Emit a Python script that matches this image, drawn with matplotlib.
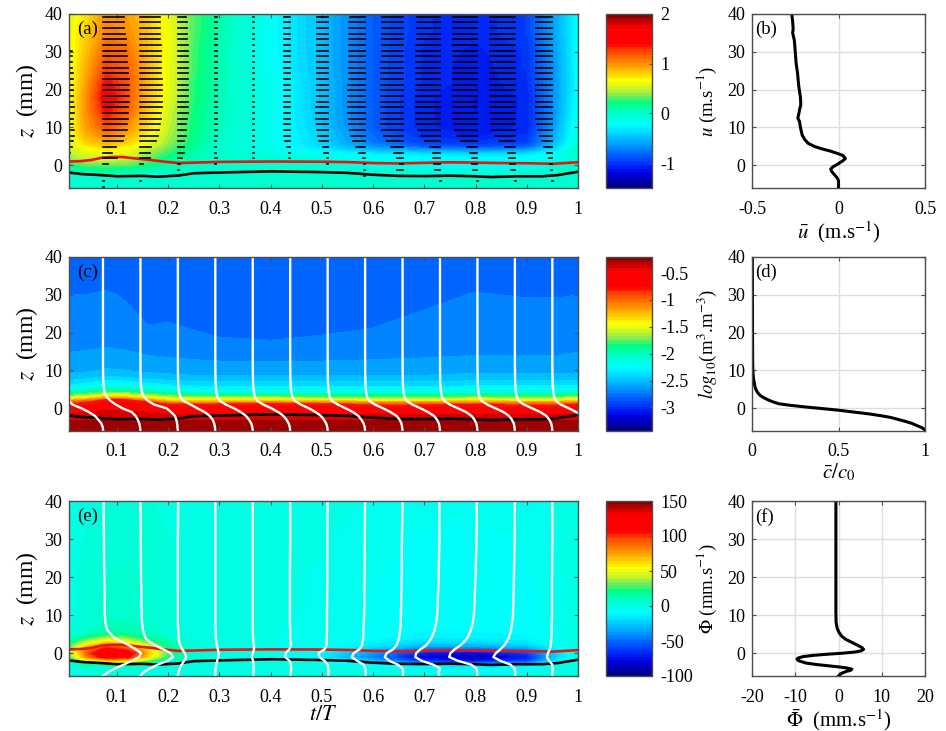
#! /usr/bin/env python
import numpy as np
import matplotlib
matplotlib.use('Agg')
from matplotlib import pyplot as plt
from matplotlib.cm import ScalarMappable
from matplotlib.colors import LinearSegmentedColormap, Normalize
from matplotlib.ticker import FormatStrFormatter

plt.rcParams['font.family'] = ['Liberation Serif', 'DejaVu Serif']
plt.rcParams['mathtext.fontset'] = 'stix'
plt.rcParams['axes.unicode_minus'] = False

# grid of the colour fields
t_grid = [.0064, .04, .08, .12, .16, .2, .25, .3, .4, .5, .6, .7, .8, .9, .96, 1.0]
z_grid = [-6, -3.5, -2, -1, 0, 1, 2, 3, 4, 5, 6, 8, 10, 14, 18, 22, 26, 30, 35, 40]

# (a) u, m/s
u_field = [
    [0]*16,
    [0]*16,
    [0, .05, .08, .06, .03, .02, 0, 0, 0, 0, -.03, -.06, -.08, -.06, -.02, 0],
    [.1, .15, .2, .15, .1, .05, 0, 0, 0, -.02, -.08, -.12, -.15, -.12, -.03, 0],
    [.2, .3, .3, .3, .2, .1, .02, 0, 0, -.03, -.1, -.15, -.18, -.15, -.05, 0],
    [.3, .4, .45, .4, .3, .15, .05, 0, 0, -.05, -.15, -.2, -.2, -.2, -.1, 0],
    [.4, .5, .55, .5, .35, .2, .08, 0, -.05, -.1, -.2, -.22, -.25, -.22, -.15, 0],
    [.45, .55, .6, .55, .4, .25, .1, 0, -.1, -.2, -.3, -.35, -.4, -.35, -.2, .05],
    [.5, .6, .7, .62, .45, .3, .12, 0, -.12, -.3, -.5, -.6, -.65, -.6, -.3, .1],
    [.5, .7, .8, .7, .55, .35, .15, 0, -.15, -.38, -.65, -.85, -.9, -.85, -.4, 0],
    [.55, .8, .9, .8, .62, .4, .18, 0, -.15, -.4, -.75, -.95, -1.0, -.95, -.45, -.05],
    [.6, .9, 1.05, .9, .7, .45, .2, .02, -.15, -.42, -.8, -1.02, -1.08, -1.0, -.5, -.1],
    [.6, .95, 1.2, 1.0, .75, .48, .2, .05, -.15, -.45, -.85, -1.05, -1.1, -1.05, -.55, -.1],
    [.62, 1.0, 1.4, 1.15, .82, .52, .22, .05, -.15, -.48, -.85, -1.05, -1.12, -1.05, -.6, -.15],
    [.62, 1.0, 1.5, 1.2, .85, .58, .25, .06, -.15, -.48, -.85, -1.05, -1.12, -1.05, -.6, -.2],
    [.6, .95, 1.4, 1.2, .88, .6, .25, .07, -.15, -.48, -.85, -1.02, -1.1, -1.02, -.6, -.2],
    [.6, .9, 1.25, 1.15, .88, .6, .28, .08, -.18, -.5, -.85, -1.02, -1.1, -1.0, -.6, -.2],
    [.6, .85, 1.15, 1.1, .85, .62, .28, .08, -.2, -.5, -.85, -1.02, -1.08, -1.0, -.58, -.2],
    [.6, .8, 1.05, 1.0, .85, .62, .3, .1, -.2, -.5, -.85, -1.0, -1.05, -.95, -.55, -.2],
    [.55, .75, 1.0, .95, .8, .6, .3, .1, -.2, -.5, -.85, -1.0, -1.05, -.95, -.55, -.2],
]

# (c) log10 concentration
c_field = [
    [-.3]*16,
    [-.32]*16,
    [-.42]*16,
    [-.5, -.45, -.4, -.42, -.45, -.48, -.5, -.5, -.5, -.5, -.52, -.52, -.52, -.52, -.52, -.5],
    [-.6, -.55, -.5, -.52, -.55, -.6, -.65, -.65, -.65, -.65, -.68, -.68, -.68, -.68, -.68, -.65],
    [-.75, -.65, -.6, -.62, -.7, -.85, -.85, -.85, -.82, -.85, -.9, -.9, -.85, -.9, -.9, -.85],
    [-1.2, -1.05, -.85, -.9, -1.1, -1.3, -1.35, -1.35, -1.3, -1.35, -1.4, -1.4, -1.35, -1.4, -1.4, -1.3],
    [-1.6, -1.5, -1.3, -1.35, -1.5, -1.65, -1.72, -1.75, -1.75, -1.78, -1.8, -1.8, -1.75, -1.78, -1.78, -1.7],
    [-1.95, -1.85, -1.7, -1.72, -1.85, -1.95, -2.03, -2.05, -2.05, -2.05, -2.08, -2.08, -2.05, -2.05, -2.05, -2.0],
    [-2.2, -2.1, -2.0, -2.02, -2.1, -2.18, -2.23, -2.25, -2.25, -2.25, -2.25, -2.25, -2.22, -2.22, -2.22, -2.2],
    [-2.35, -2.28, -2.2, -2.22, -2.28, -2.33, -2.37, -2.38, -2.38, -2.38, -2.38, -2.38, -2.36, -2.36, -2.36, -2.35],
    [-2.5, -2.47, -2.42, -2.44, -2.48, -2.5, -2.52, -2.52, -2.52, -2.52, -2.52, -2.52, -2.5, -2.5, -2.5, -2.5],
    [-2.58, -2.57, -2.54, -2.55, -2.58, -2.59, -2.6, -2.6, -2.6, -2.6, -2.6, -2.6, -2.58, -2.58, -2.58, -2.58],
    [-2.64, -2.63, -2.62, -2.63, -2.65, -2.66, -2.67, -2.68, -2.68, -2.68, -2.67, -2.66, -2.65, -2.65, -2.65, -2.64],
    [-2.69, -2.69, -2.68, -2.69, -2.71, -2.71, -2.73, -2.745, -2.75, -2.74, -2.73, -2.7, -2.68, -2.69, -2.69, -2.69],
    [-2.71, -2.71, -2.7, -2.72, -2.75, -2.745, -2.76, -2.77, -2.78, -2.77, -2.755, -2.72, -2.7, -2.71, -2.71, -2.71],
    [-2.73, -2.73, -2.72, -2.74, -2.77, -2.77, -2.78, -2.79, -2.8, -2.79, -2.77, -2.75, -2.725, -2.73, -2.73, -2.73],
    [-2.75, -2.75, -2.74, -2.76, -2.79, -2.79, -2.8, -2.8, -2.82, -2.81, -2.79, -2.77, -2.745, -2.755, -2.755, -2.75],
    [-2.78, -2.78, -2.78, -2.79, -2.81, -2.81, -2.82, -2.82, -2.83, -2.83, -2.82, -2.8, -2.78, -2.79, -2.79, -2.78],
    [-2.8, -2.8, -2.8, -2.81, -2.83, -2.83, -2.84, -2.84, -2.84, -2.84, -2.84, -2.82, -2.81, -2.81, -2.81, -2.8],
]

# (e) flux, mm/s
f_field = [
    [0]*16,
    [0, 3, 5, 5, 3, 1, 0, 0, 0, -1, -6, -14, -16, -12, -3, 0],
    [10, 42, 60, 58, 30, 10, 2, 0, -1, -10, -30, -66, -76, -60, -14, -2],
    [25, 80, 120, 110, 62, 22, 4, 0, -2, -14, -44, -82, -92, -72, -20, -2],
    [32, 90, 135, 120, 70, 26, 5, 0, -2, -12, -38, -70, -78, -60, -18, 0],
    [30, 78, 112, 98, 60, 22, 4, 0, -2, -8, -26, -50, -54, -40, -12, 0],
    [24, 60, 85, 72, 45, 18, 3, 0, -2, -6, -16, -30, -30, -24, -8, 0],
    [14, 40, 60, 50, 30, 12, 2, -1, -2, -5, -12, -20, -20, -16, -6, 0],
    [6, 22, 38, 32, 18, 8, 1, -1, -2, -4, -9, -14, -14, -12, -5, 0],
    [3, 12, 20, 18, 12, 5, 0, -1, -2, -4, -8, -11, -11, -10, -5, 0],
    [2, 8, 14, 13, 9, 4, 0, -1, -2, -4, -8, -10, -10, -9, -4, 0],
    [1, 5, 10, 10, 7, 3, 0, -1, -2, -3, -7, -9, -9, -8, -4, 0],
    [0, 3, 8, 8, 6, 3, 0, -1, -2, -3, -7, -9, -9, -8, -4, 0],
    [0, 3, 7, 7, 5, 3, 0, -1, -1, -3, -7, -9, -9, -8, -4, 0],
    [0, 3, 6, 6, 5, 2, 0, 0, -1, -3, -6, -8, -8, -7, -4, 0],
    [0, 3, 5, 6, 4, 2, 0, 0, -1, -3, -6, -8, -8, -7, -3, 0],
    [0, 2, 5, 5, 4, 2, 0, 0, 0, -2, -5, -7, -7, -6, -3, 0],
    [0, 2, 4, 5, 4, 2, 0, 0, 0, -2, -5, -7, -7, -6, -3, 0],
    [0, 1, 3, 4, 3, 1, 0, 0, 0, -1, -4, -6, -6, -5, -2, 0],
    [0, 0, 2, 3, 2, 0, 0, 0, 0, 0, -3, -5, -5, -4, -2, 0],
]

# bed levels
red_t = [.0064, .03, .05, .07, .09, .11, .13, .16, .19, .22, .25, .3, .4, .5, .55, .6, .65, .7, .75, .8, .85, .9, .95, 1]
red_z = [1.0, 1.1, 1.4, 2.0, 2.2, 2.2, 1.9, 1.5, 1.0, .6, .7, .9, 1.0, .95, .85, .6, .5, .65, .8, .7, .6, .55, .4, .8]
black_t = [.0064, .03, .07, .1, .15, .18, .22, .25, .3, .4, .5, .55, .6, .65, .7, .75, .8, .83, .88, .93, .96, 1]
black_z = [-1.9, -2.3, -2.6, -2.9, -2.8, -3.0, -2.7, -2.1, -1.9, -1.6, -1.8, -2.0, -2.5, -2.8, -2.85, -2.75, -2.9, -3.1, -2.9, -2.9, -2.6, -1.7]

# phases of the profiles drawn over the fields
phases = [0, .0727, .1458, .2189, .292, .3651, .4382, .5113, .5844, .6575, .7306, .8037, .8768, .9499]

# (a) velocity dashes, one row per height, one column per phase
arrow_z = [39.3, 37.8, 36.3, 34.8, 33.3, 31.8, 30.3, 28.8, 27.3, 25.8, 24.3, 22.8, 21.3, 19.8, 18.3, 16.8,
           15.3, 13.8, 12.3, 10.8, 9.3, 7.8, 6.3, 4.8, 3.3, 1.8, .3, -1.2, -2.7, -4.2, -5.7]
arrow_u = [
    [.1, 1.02, .97, .42, .08, .06, -.28, -.5, -.75, -1.0, -1.13, -1.18, -1.22, -.8],
    [.1, 1.05, .97, .44, .08, .06, -.28, -.5, -.78, -1.0, -1.13, -1.18, -1.22, -.8],
    [.1, 1.05, .98, .44, .08, .06, -.3, -.5, -.78, -1.0, -1.13, -1.18, -1.22, -.8],
    [.1, 1.08, .98, .46, .08, .06, -.3, -.5, -.78, -1.0, -1.13, -1.18, -1.22, -.8],
    [.12, 1.1, .98, .46, .08, .06, -.3, -.5, -.78, -1.02, -1.13, -1.18, -1.22, -.8],
    [.15, 1.1, 1.0, .48, .08, .06, -.3, -.5, -.8, -1.02, -1.15, -1.2, -1.22, -.8],
    [.3, 1.12, 1.0, .48, .08, .06, -.32, -.52, -.8, -1.02, -1.15, -1.2, -1.22, -.82],
    [.3, 1.15, 1.0, .48, .08, .06, -.32, -.52, -.8, -1.02, -1.15, -1.2, -1.22, -.82],
    [.3, 1.18, 1.02, .5, .08, .06, -.32, -.52, -.8, -1.05, -1.15, -1.2, -1.22, -.82],
    [.32, 1.2, 1.02, .5, .08, .06, -.32, -.52, -.8, -1.05, -1.15, -1.2, -1.22, -.82],
    [.35, 1.22, 1.02, .5, .08, .06, -.32, -.52, -.8, -1.05, -1.15, -1.2, -1.22, -.82],
    [.35, 1.25, 1.05, .5, .08, .06, -.32, -.52, -.8, -1.05, -1.15, -1.2, -1.22, -.82],
    [.35, 1.25, 1.05, .5, .08, .06, -.32, -.52, -.82, -1.05, -1.15, -1.2, -1.22, -.82],
    [.35, 1.25, 1.05, .5, .08, .06, -.32, -.52, -.82, -1.05, -1.15, -1.2, -1.22, -.82],
    [.35, 1.25, 1.05, .5, .08, .06, -.3, -.52, -.82, -1.05, -1.15, -1.2, -1.22, -.82],
    [.35, 1.25, 1.05, .5, .08, .06, -.3, -.52, -.82, -1.05, -1.15, -1.2, -1.22, -.8],
    [.38, 1.22, 1.05, .48, .08, .06, -.3, -.55, -.82, -1.05, -1.15, -1.2, -1.2, -.78],
    [.38, 1.22, 1.02, .48, .08, .06, -.3, -.55, -.82, -1.05, -1.15, -1.2, -1.2, -.78],
    [.35, 1.2, 1.0, .45, .08, .06, -.3, -.55, -.8, -1.05, -1.15, -1.18, -1.18, -.78],
    [.35, 1.18, .98, .42, .08, .06, -.3, -.5, -.78, -1.05, -1.12, -1.15, -1.15, -.75],
    [.38, 1.15, .92, .4, .08, .06, -.3, -.5, -.75, -1.0, -1.05, -1.1, -1.1, -.72],
    [.42, 1.05, .85, .38, .08, .06, -.28, -.45, -.68, -.9, -.95, -.98, -.95, -.6],
    [.35, .98, .75, .32, .05, .06, -.25, -.4, -.6, -.75, -.75, -.78, -.72, -.48],
    [.3, .62, .5, .32, .05, .06, -.15, -.25, -.45, -.55, -.5, -.5, -.5, -.4],
    [.22, .45, .45, .28, .03, .05, -.05, -.2, -.28, -.4, -.35, -.38, -.35, -.28],
    [.18, .7, .45, .18, .08, .05, -.05, -.05, -.08, -.25, -.32, -.28, -.28, -.15],
    [.1, .25, .12, .12, .03, .03, -.03, -.05, -.05, -.1, -.28, -.25, -.25, -.1],
    [0, 0, 0, .05, 0, 0, 0, .03, -.05, -.25, -.25, -.2, -.2, -.08],
    [0, 0, .02, .05, 0, 0, 0, .02, -.05, -.1, -.1, -.08, -.08, -.03],
    [0, .05, .02, 0, 0, 0, 0, .02, 0, .03, .03, .03, .03, .02],
    [0, .03, 0, 0, 0, 0, 0, 0, .01, 0, 0, 0, 0, 0],
]

# (c) white concentration profiles, c/c0
conc_z = [-6, -5, -4, -3, -2, -1, 0, 1, 2, 3, 4, 5, 6, 8, 10, 15, 20, 40]
conc_lines = [
    [1, .99, .95, .87, .78, .62, .42, .18, .08, .045, .03, .02, .012, .006, .002, 0, 0, 0],
    [1, .99, .97, .93, .87, .77, .52, .34, .2, .1, .05, .03, .015, .006, .002, 0, 0, 0],
    [1, .99, .98, .96, .92, .82, .7, .36, .2, .1, .05, .03, .015, .006, .002, 0, 0, 0],
    [1, .99, .97, .93, .85, .72, .52, .34, .14, .07, .04, .02, .01, .005, .002, 0, 0, 0],
    [1, .99, .96, .9, .82, .68, .5, .28, .12, .06, .035, .02, .012, .005, .002, 0, 0, 0],
    [1, .99, .96, .9, .82, .68, .5, .28, .12, .06, .035, .02, .012, .005, .002, 0, 0, 0],
    [1, .99, .96, .9, .82, .68, .5, .28, .12, .06, .035, .02, .012, .005, .002, 0, 0, 0],
    [1, .99, .96, .9, .82, .68, .48, .27, .11, .06, .035, .02, .012, .005, .002, 0, 0, 0],
    [1, .99, .97, .92, .84, .68, .48, .26, .11, .055, .03, .02, .01, .005, .002, 0, 0, 0],
    [1, .99, .97, .92, .84, .68, .48, .26, .11, .055, .03, .02, .01, .005, .002, 0, 0, 0],
    [1, .99, .97, .92, .84, .7, .48, .26, .11, .055, .03, .02, .01, .005, .002, 0, 0, 0],
    [1, .99, .97, .92, .84, .7, .48, .26, .11, .055, .03, .02, .01, .005, .002, 0, 0, 0],
    [1, .99, .97, .92, .84, .68, .46, .24, .1, .05, .03, .02, .01, .005, .002, 0, 0, 0],
    [1, .99, .96, .9, .8, .64, .44, .22, .09, .05, .03, .02, .01, .005, .002, 0, 0, 0],
]

# (e) white flux profiles, mm/s
flux_z = [-6, -5, -4, -3, -2, -1, 0, 1, 2, 3, 4, 6, 8, 10, 20, 30, 40]
flux_lines = [
    [0, 16, 38, 66, 90, 114, 120, 104, 84, 60, 36, 14, 8, 6, 4, 3, 2],
    [0, 10, 30, 55, 85, 103, 95, 72, 48, 28, 16, 8, 5, 4, 2, 1, 0],
    [0, 2, 6, 12, 20, 26, 22, 14, 8, 4, 3, 1, 0, 0, 0, 0, 1],
    [0, 0, 1, 3, 6, 9, 11, 8, 5, 3, 2, 1, 0, 0, 0, 0, 0],
    [2, 2, 3, 3, 1, -3, 0, 4, 4, 2, 1, 0, 0, 0, 0, 0, 0],
    [1, 2, 3, 2, -2, -16, -14, -3, 2, 1, 0, 0, -1, -1, -1, 0, 0],
    [2, 3, 2, 0, -10, -26, -28, -10, -4, -3, -3, -2, -2, -2, -1, -1, 0],
    [1, 2, 1, -5, -25, -42, -36, -18, -10, -8, -6, -5, -4, -3, -2, -1, 0],
    [1, 2, 0, -15, -42, -56, -50, -30, -20, -15, -11, -8, -6, -5, -3, -2, 0],
    [-2, -4, 0, -22, -58, -78, -75, -62, -45, -35, -27, -17, -12, -9, -4, -2, -2],
    [-1, -1, -3, -20, -62, -89, -85, -72, -55, -42, -32, -21, -15, -11, -6, -3, -2],
    [1, 1, -1, -14, -46, -68, -60, -46, -34, -26, -20, -12, -9, -6, -3, -1, 0],
    [0, 0, 1, 0, -10, -17, -14, -8, -5, -4, -3, -2, -2, -1, -1, 0, 0],
]

# mean profiles on the right
ubar = [-.27, -.265, -.262, -.265, -.255, -.25, -.245, -.237, -.23, -.22, -.218, -.225, -.23, -.235, -.225, -.22,
        -.21, -.195, -.175, -.14, -.1, -.05, -.01, .025, .04, .025, -.005, -.035, -.045, -.04, -.025, -.01, 0, 0]
ubar_z = [40, 38, 36, 35, 33, 30, 27, 24.5, 21, 18, 16, 14.7, 13.5, 12.5, 11.5, 10,
          8, 6.8, 5.8, 5, 4.4, 3.8, 3.2, 2.6, 1.8, 1.2, .3, -.5, -1, -1.6, -2.4, -3.2, -4, -6]
cbar_mean = [.002, .003, .004, .005, .008, .012, .016, .022, .032, .045, .06, .085, .115, .155, .22, .31, .39, .5,
             .59, .68, .75, .8, .85, .89, .925, .96, .985, .997, 1]
cbar_z = [40, 20, 12, 10, 8, 7, 6, 5, 4.2, 3.5, 3, 2.4, 1.8, 1.2, .8, .35, 0, -.5,
          -1, -1.5, -2, -2.4, -3, -3.5, -4, -4.7, -5.2, -5.6, -6]
phibar = [-.6, -.6, -.55, -.3, .1, .7, 1.6, 2.8, 4.2, 5.4, 5.8, 5.2, 3.8, 1, -3.5, -6, -8.2, -9.4, -9.6, -9.2,
          -7.5, -5, -2.5, 0, 2, 3.1, 2.8, 1.8, .7, 0]
phibar_z = [40, 10.5, 8, 6.5, 5.5, 4.5, 3.7, 3, 2.2, 1.5, 1, .6, .3, 0, -.35, -.6, -.9, -1.3, -1.6, -2,
            -2.6, -3, -3.3, -3.6, -3.9, -4.2, -4.5, -4.8, -5.3, -6]

cmap_stops = [(0, (0, 0, 130)), (.08, (0, 0, 230)), (.16, (0, 70, 255)), (.26, (0, 170, 255)),
              (.36, (0, 255, 255)), (.43, (0, 255, 205)), (.49, (0, 255, 130)), (.53, (120, 235, 90)),
              (.57, (200, 245, 40)), (.62, (255, 255, 0)), (.72, (255, 140, 0)), (.80, (255, 60, 0)),
              (.83, (255, 0, 0)), (.93, (255, 0, 0)), (1, (130, 0, 0))]

XMIN = .0064
YMIN, YMAX = -6, 40
FIG_W, FIG_H = 946., 731.
EDGE = '0.3'


def add_axes(fig, x0, x1, y0, y1):
    # pixel box, y from the top of the picture
    return fig.add_axes([x0/FIG_W, 1 - y1/FIG_H, (x1 - x0)/FIG_W, (y1 - y0)/FIG_H])


def dress(ax, letter):
    ax.set_ylim(YMIN, YMAX)
    ax.set_yticks([0, 10, 20, 30, 40])
    ax.tick_params(direction='in', length=3, width=.8, color=EDGE, labelsize=13,
                   top=True, right=True)
    ax.tick_params(axis='x', pad=9)
    ax.tick_params(axis='y', pad=5)
    for s in ax.spines.values():
        s.set_color(EDGE)
        s.set_linewidth(1.0)
    ax.text(.016, .91, letter, transform=ax.transAxes, fontsize=13.5, va='center', ha='left')


def field_panel(fig, y0, y1, field, cmap, vmin, vmax, levels, letter, cb_ticks):
    ax = add_axes(fig, 69, 578, y0, y1)
    norm = Normalize(vmin, vmax)
    ax.contourf(t_grid, z_grid, np.array(field), levels=levels, cmap=cmap, norm=norm, extend='both')
    ax.plot(red_t, red_z, color='#f01010', lw=1.9)
    ax.plot(black_t, black_z, color='k', lw=1.9)
    ax.set_xlim(XMIN, 1)
    ax.set_xticks([.1, .2, .3, .4, .5, .6, .7, .8, .9, 1])
    ax.xaxis.set_major_formatter(FormatStrFormatter('%g'))
    ax.set_ylabel(r'$z$  (mm)', fontsize=17, labelpad=3)
    dress(ax, letter)

    cax = add_axes(fig, 606, 652, y0, y1)
    cb = fig.colorbar(ScalarMappable(norm=norm, cmap=cmap), cax=cax)
    cb.set_ticks(cb_ticks)
    cb.ax.yaxis.set_major_formatter(FormatStrFormatter('%g'))
    cb.ax.tick_params(direction='in', length=2, width=.8, color=EDGE, labelsize=13, pad=6)
    cb.outline.set_edgecolor(EDGE)
    cb.outline.set_linewidth(1.0)
    return ax


def mean_panel(fig, y0, y1, x, z, xlim, xticks, xlabel, ylabel, letter):
    ax = add_axes(fig, 752, 925, y0, y1)
    ax.grid(True, color='0.87', lw=1.0)
    ax.set_axisbelow(True)
    ax.plot(x, z, color='k', lw=2.2)
    ax.set_xlim(*xlim)
    ax.set_xticks(xticks)
    ax.xaxis.set_major_formatter(FormatStrFormatter('%g'))
    ax.set_xlabel(xlabel, fontsize=15, labelpad=1)
    ax.set_ylabel(ylabel, fontsize=13.5, labelpad=6)
    dress(ax, letter)
    return ax


def run():
    fig = plt.figure(figsize=(FIG_W/100, FIG_H/100), dpi=100)
    stops = [(p, tuple(v/255. for v in c)) for p, c in cmap_stops]
    cmap = LinearSegmentedColormap.from_list('bands', stops, N=64)

    ax_a = field_panel(fig, 14, 188, u_field, cmap, -1.5, 2, np.linspace(-1.5, 2, 65),
                       '(a)', [-1, 0, 1, 2])
    u = np.array(arrow_u)
    for k, phase in enumerate(phases):
        ax_a.hlines(arrow_z, phase, phase + .04*u[:, k], color='k', lw=1.2, capstyle='projecting')

    ax_c = field_panel(fig, 257, 431, c_field, cmap, -3.44, -.2, np.arange(-3.45, -.15, .1),
                       '(c)', [-3, -2.5, -2, -1.5, -1, -.5])
    for phase, c in zip(phases, conc_lines):
        ax_c.plot(phase + .0731*np.array(c), conc_z, color='w', lw=1.7)

    ax_e = field_panel(fig, 501, 676, f_field, cmap, -100, 150, np.linspace(-100, 150, 65),
                       '(e)', [-100, -50, 0, 50, 100, 150])
    for phase, f in zip(phases[1:], flux_lines):
        ax_e.plot(phase + .00062*np.array(f), flux_z, color='w', lw=1.7)
    ax_e.set_xlabel('$t/T$', fontsize=16, labelpad=0)

    mean_panel(fig, 14, 188, ubar, ubar_z, (-.5, .5), [-.5, 0, .5],
               r'$\bar{u}$  (m.s$^{-1}$)', '$u$ (m.s$^{-1}$)', '(b)')
    mean_panel(fig, 257, 431, cbar_mean, cbar_z, (0, 1), [0, .5, 1],
               r'$\bar{c}/c_0$', '$log_{10}$(m$^3$.m$^{-3}$)', '(d)')
    mean_panel(fig, 501, 676, phibar, phibar_z, (-20, 20), [-20, -10, 0, 10, 20],
               r'$\bar{\Phi}$  (mm.s$^{-1}$)', r'$\Phi$ (mm.s$^{-1}$)', '(f)')

    fig.savefig('out.png', dpi=100)


if __name__ == '__main__':
    run()
